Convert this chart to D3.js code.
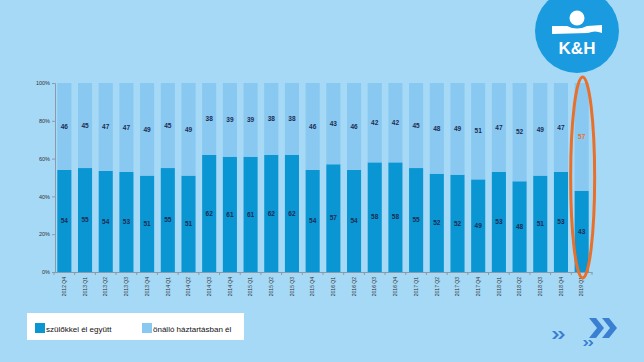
<!DOCTYPE html>
<html><head><meta charset="utf-8">
<script src="https://cdn.jsdelivr.net/npm/d3@7"></script>
<style>html,body{margin:0;padding:0;background:#a6d9f6;}svg{display:block;font-family:"Liberation Sans",Arial,sans-serif;}</style>
</head><body>
<script>
const categories = ["2012 Q4","2013 Q1","2013 Q2","2013 Q3","2013 Q4","2014 Q1","2014 Q2","2014 Q3","2014 Q4","2015 Q1","2015 Q2","2015 Q3","2015 Q4","2016 Q1","2016 Q2","2016 Q3","2016 Q4","2017 Q1","2017 Q2","2017 Q3","2017 Q4","2018 Q1","2018 Q2","2018 Q3","2018 Q4","2019 Q1"];
const withParents = [54,55,54,53,51,55,51,62,61,61,62,62,54,57,54,58,58,55,52,52,49,53,48,51,53,43];
const independent = [46,45,47,47,49,45,49,38,39,39,38,38,46,43,46,42,42,45,48,49,51,47,52,49,47,57];
const seriesNames = ["szülőkkel él együtt","önálló háztartásban él"];
const yTicks = [0,0.2,0.4,0.6,0.8,1];
const colors = ["#0a95d3","#88c8f1"];

const W=644,H=362;
const svg=d3.select("body").append("svg").attr("width",W).attr("height",H);
svg.append("rect").attr("width",W).attr("height",H).attr("fill","#a6d9f6");

const m={l:55,r:592,t:83,b:272};
const x=d3.scaleBand().domain(categories).range([m.l-1,m.r]).paddingInner(0.32).paddingOuter(0.16);
const y=d3.scaleLinear().domain([0,1]).range([m.b,m.t]);

const table=categories.map((c,i)=>({cat:c,a:withParents[i],b:independent[i]}));
const stack=d3.stack().keys(["a","b"]).offset(d3.stackOffsetExpand);
const series=stack(table);

const g=svg.append("g");
series.forEach((s,si)=>{
  g.selectAll(null).data(s).enter().append("rect")
   .attr("x",d=>x(d.data.cat)).attr("width",x.bandwidth())
   .attr("y",d=>y(d[1])).attr("height",d=>y(d[0])-y(d[1]))
   .attr("fill",colors[si]);
});
series.forEach((s,si)=>{
  g.selectAll(null).data(s).enter().append("text")
   .attr("x",d=>x(d.data.cat)+x.bandwidth()/2)
   .attr("y",d=>(y(d[0])+y(d[1]))/2)
   .attr("dy","0.35em").attr("text-anchor","middle")
   .attr("font-size",6.5).attr("font-weight","bold")
   .attr("fill",(d,i)=> (si===1 && i===categories.length-1) ? "#e8702a" : "#1c2c52")
   .text(d=> si===0 ? d.data.a : d.data.b);
});

// axes
const ya=svg.append("g").attr("transform",`translate(${m.l},0)`)
  .call(d3.axisLeft(y).tickValues(yTicks).tickFormat(d3.format(".0%")).tickSize(3).tickPadding(2));
ya.select(".domain").attr("stroke","#8a9aa8");
ya.selectAll(".tick line").attr("stroke","#8a9aa8");
ya.selectAll("text").attr("font-size",5.5).attr("fill","#333").attr("font-family","Liberation Sans, Arial");

const xa=svg.append("g").attr("transform",`translate(0,${m.b})`)
  .call(d3.axisBottom(x).tickSize(0).tickPadding(0));
xa.select(".domain").attr("stroke","#8a9aa8");
xa.selectAll(".tick text").attr("font-size",5).attr("fill","#333").attr("font-family","Liberation Sans, Arial")
  .attr("transform","rotate(-90)").attr("text-anchor","end").attr("x",-5).attr("y",0).attr("dy","0.35em");
// tick marks between categories
const step=x.step();
xa.selectAll(null).data(categories.concat(["_end"])).enter().append("line")
  .attr("x1",(d,i)=>x(categories[0]) - (step-x.bandwidth())/2 + i*step)
  .attr("x2",(d,i)=>x(categories[0]) - (step-x.bandwidth())/2 + i*step)
  .attr("y1",0).attr("y2",3).attr("stroke","#8a9aa8");

// highlight ellipse on last bar
const lastC=x(categories[categories.length-1])+x.bandwidth()/2;
svg.append("ellipse").attr("cx",lastC+1).attr("cy",(y(1)+y(0))/2)
  .attr("rx",12).attr("ry",(y(0)-y(1))/2+6)
  .attr("fill","none").attr("stroke","#e8702a").attr("stroke-width",3);

// legend
const lg=svg.append("g");
lg.append("rect").attr("x",27).attr("y",313).attr("width",217).attr("height",27).attr("fill","#ffffff");
const legX=[35,142];
seriesNames.forEach((n,i)=>{
  lg.append("rect").attr("x",legX[i]).attr("y",323).attr("width",10).attr("height",10).attr("fill",colors[i]);
  lg.append("text").attr("x",legX[i]+11).attr("y",331.5).attr("font-size",8).attr("fill","#111").text(n);
});

// logo
const logo=svg.append("g");
logo.append("circle").attr("cx",577).attr("cy",31).attr("r",42).attr("fill","#1a9be0");
logo.append("circle").attr("cx",577).attr("cy",18).attr("r",7.5).attr("fill","#fff");
logo.append("path").attr("d","M552,26 L567,26 Q577,31 587,26 L602,25 L602,33 Q595,30 588,33 L552,34 Z").attr("fill","#fff");
logo.append("text").attr("x",577).attr("y",54).attr("text-anchor","middle").attr("font-size",17).attr("font-weight","bold").attr("fill","#fff").text("K&H");

// chevrons
function chev(x0,yc,h,w,th){
  return `M${x0},${yc-h} L${x0+th},${yc-h} L${x0+th+w},${yc} L${x0+th},${yc+h} L${x0},${yc+h} L${x0+w},${yc} Z`;
}
const cg=svg.append("g").attr("fill","#3b7fd2");
[[552,335,4,4,3],[558,335,4,4,3],[583,343,3,3,2.5],[588,343,3,3,2.5],[589,328,10,8,7],[602,328,10,8,7]].forEach(p=>{
  cg.append("path").attr("d",chev(...p));
});
</script>
</body></html>
